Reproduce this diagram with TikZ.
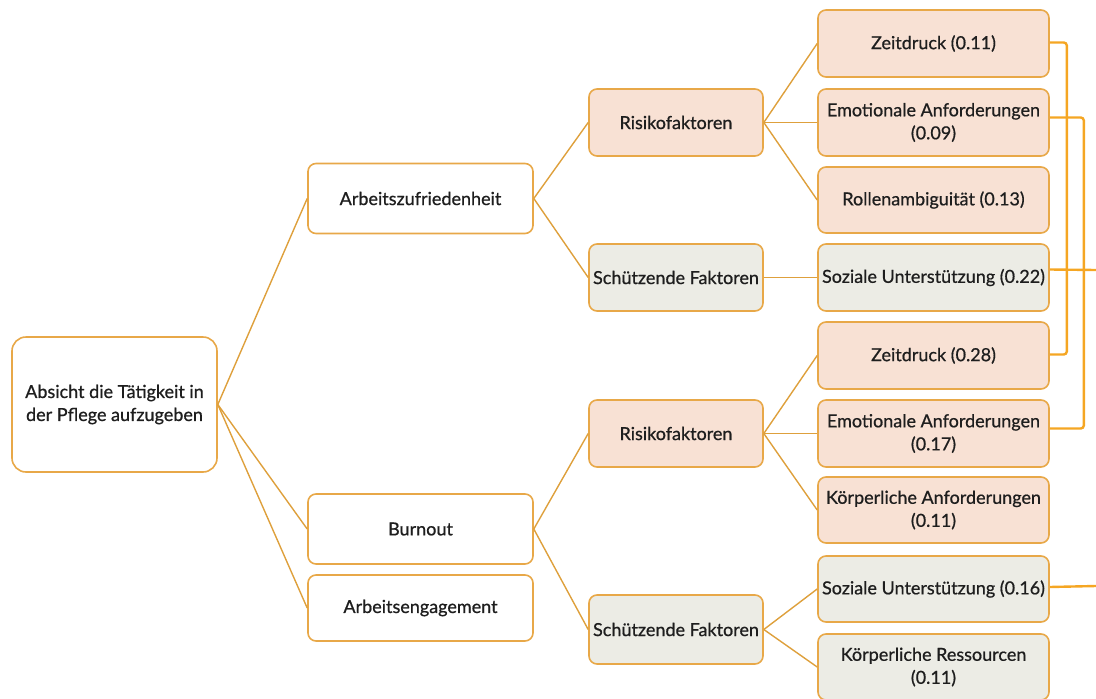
\documentclass[tikz,border=0pt]{standalone}
\usepackage{fontspec}
\setmainfont{Lato}[FakeBold=0.7]
\definecolor{bord}{RGB}{232,168,72}
\definecolor{tree}{RGB}{222,160,60}
\definecolor{conn}{RGB}{245,166,35}
\definecolor{riskfill}{RGB}{248,225,212}
\definecolor{protfill}{RGB}{236,236,229}
\definecolor{txt}{RGB}{30,30,30}
\begin{document}
\begin{tikzpicture}[x=1pt,y=-1pt,
  box/.style={draw=bord,line width=1.6pt,rounded corners=8pt,align=center,
    text=txt,inner sep=2pt,font=\fontsize{18}{23}\selectfont},
  plain/.style={box,fill=white},
  risk/.style={box,fill=riskfill},
  prot/.style={box,fill=protfill},
  leaf/.style={minimum width=231pt,minimum height=67pt},
  mid/.style={minimum width=174pt,minimum height=67pt},
  lvl/.style={minimum width=225pt,minimum height=70pt},
  edge/.style={draw=tree,line width=1.4pt},
  link/.style={draw=conn,line width=2.4pt,rounded corners=3pt}]
\useasboundingbox (0,0) rectangle (1096,699);
% root
\node[plain,minimum width=205pt,minimum height=135pt,rounded corners=14pt] (root) at (114.5,404.5) {Absicht die Tätigkeit in\\der Pflege aufzugeben};
% level 1
\node[plain,lvl] (a1) at (420.5,198.5) {Arbeitszufriedenheit};
\node[plain,lvl] (a2) at (420.5,529) {Burnout};
\node[plain,lvl,minimum height=66pt] (a3) at (420.5,608) {Arbeitsengagement};
% level 2
\node[risk,mid] (r1) at (676,122.5) {Risikofaktoren};
\node[prot,mid] (p1) at (676,277.5) {Schützende Faktoren};
\node[risk,mid] (r2) at (676,433.5) {Risikofaktoren};
\node[prot,mid,minimum height=69pt] (p2) at (676,629.5) {Schützende Faktoren};
% leaves
\node[risk,leaf] (z1) at (933.5,43.5) {Zeitdruck (0.11)};
\node[risk,leaf] (e1) at (933.5,122.5) {Emotionale Anforderungen\\(0.09)};
\node[risk,leaf,minimum height=66pt] (ro) at (933.5,200) {Rollenambiguität (0.13)};
\node[prot,leaf] (s1) at (933.5,277.5) {Soziale Unterstützung (0.22)};
\node[risk,leaf] (z2) at (933.5,355.5) {Zeitdruck (0.28)};
\node[risk,leaf] (e2) at (933.5,433.5) {Emotionale Anforderungen\\(0.17)};
\node[risk,leaf,minimum height=66pt] (k1) at (933.5,510) {Körperliche Anforderungen\\(0.11)};
\node[prot,leaf,minimum height=66pt] (s2) at (933.5,589) {Soziale Unterstützung (0.16)};
\node[prot,leaf,minimum height=66pt] (k2) at (933.5,667) {Körperliche Ressourcen\\(0.11)};
% tree edges
\draw[edge] (root.east) -- (a1.west);
\draw[edge] (root.east) -- (a2.west);
\draw[edge] (root.east) -- (a3.west);
\draw[edge] (a1.east) -- (r1.west);
\draw[edge] (a1.east) -- (p1.west);
\draw[edge] (a2.east) -- (r2.west);
\draw[edge] (a2.east) -- (p2.west);
\draw[edge] (r1.east) -- (z1.west);
\draw[edge] (r1.east) -- (e1.west);
\draw[edge] (r1.east) -- (ro.west);
\draw[edge] (p1.east) -- (s1.west);
\draw[edge] (r2.east) -- (z2.west);
\draw[edge] (r2.east) -- (e2.west);
\draw[edge] (r2.east) -- (k1.west);
\draw[edge] (p2.east) -- (s2.west);
\draw[edge] (p2.east) -- (k2.west);
% right-side connectors
\coordinate (s1end) at (1096,270);
\coordinate (s2end) at (1096,586);
\draw[link] ([yshift=1pt]z1.east) -- ++(17,0) |- ([yshift=1pt]z2.east);
\draw[link] ([yshift=5pt]e1.east) -- ++(34,0) |- ([yshift=5pt]e2.east);
\draw[link] ([yshift=8pt]s1.east) -- (s1end);
\draw[link] ([yshift=2pt]s2.east) -- (s2end);
\end{tikzpicture}
\end{document}
